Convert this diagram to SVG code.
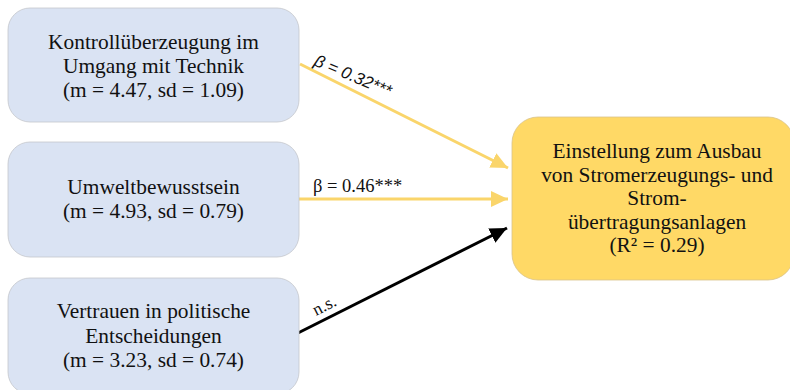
<svg xmlns="http://www.w3.org/2000/svg" width="790" height="390" viewBox="0 0 790 390">
<style>
.box{fill:#dae3f3;stroke:#c4c7cc;stroke-width:0.8}
.out{fill:#ffd966;stroke:#d9c38a;stroke-width:0.8}
.t{font-family:"Liberation Serif","Times New Roman",serif;font-size:21.4px;fill:#111;text-anchor:middle}
.lbl{font-family:"Liberation Serif","Times New Roman",serif;font-size:18.5px;fill:#111}
.lbli{font-family:"Liberation Sans",Arial,sans-serif;font-style:italic;font-size:17px;fill:#111}
.y{stroke:#fad56b;stroke-width:3;fill:none}
.k{stroke:#000;stroke-width:3;fill:none}
</style>
<defs>
<marker id="ay" markerUnits="userSpaceOnUse" markerWidth="18" markerHeight="16" refX="17" refY="8" orient="auto"><path d="M0,0 L17,8 L0,16 z" fill="#fad56b"/></marker>
<marker id="ak" markerUnits="userSpaceOnUse" markerWidth="18" markerHeight="16" refX="17" refY="8" orient="auto"><path d="M0,0 L17,8 L0,16 z" fill="#000"/></marker>
</defs>
<rect width="790" height="390" fill="#fff"/>
<g id="connectors">
<line class="y" x1="300" y1="64" x2="508" y2="168" marker-end="url(#ay)"/>
<line class="y" x1="299" y1="199" x2="508" y2="199" marker-end="url(#ay)"/>
<line class="k" x1="298" y1="333" x2="507" y2="228" marker-end="url(#ak)"/>
<text class="lbli" transform="translate(313,65) rotate(23)">β = 0.32***</text>
<text class="lbl" x="313" y="192">β = 0.46***</text>
<text class="lbl" transform="translate(316,316) rotate(-26.7)" style="font-size:17.5px">n.s.</text>
</g>
<g id="node-kontrolle">
<rect class="box" x="8" y="8" width="291" height="114" rx="22"/>
<text class="t" x="153.5" y="49">Kontrollüberzeugung im</text>
<text class="t" x="153.5" y="73">Umgang mit Technik</text>
<text class="t" x="153.5" y="97">(m = 4.47, sd = 1.09)</text>
</g>
<g id="node-umwelt">
<rect class="box" x="8" y="142" width="291" height="115" rx="22"/>
<text class="t" x="153.5" y="194">Umweltbewusstsein</text>
<text class="t" x="153.5" y="218">(m = 4.93, sd = 0.79)</text>
</g>
<g id="node-vertrauen">
<rect class="box" x="8" y="278" width="291" height="116" rx="22"/>
<text class="t" x="153.5" y="318">Vertrauen in politische</text>
<text class="t" x="153.5" y="343">Entscheidungen</text>
<text class="t" x="153.5" y="367">(m = 3.23, sd = 0.74)</text>
</g>
<g id="node-einstellung">
<rect class="out" x="512" y="117" width="282" height="163" rx="26"/>
<text class="t" x="657" y="158">Einstellung zum Ausbau</text>
<text class="t" x="657" y="182">von Stromerzeugungs- und</text>
<text class="t" x="657" y="205">Strom-</text>
<text class="t" x="657" y="229">übertragungsanlagen</text>
<text class="t" x="657" y="252">(R² = 0.29)</text>
</g>
</svg>
